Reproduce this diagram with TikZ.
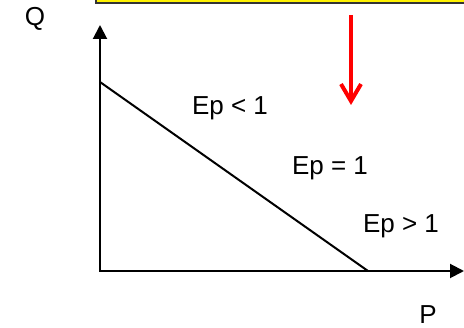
\documentclass[tikz,border=0pt]{standalone}
\usepackage{fontspec}
\setmainfont{Liberation Sans}
\usetikzlibrary{arrows.meta}
\begin{document}
\begin{tikzpicture}[x=1pt,y=-1pt,
  lbl/.style={font=\fontsize{26}{29}\selectfont, inner sep=0pt},
  axis/.style={line width=2pt,-{Triangle[length=14pt,width=14pt]}},
  redarr/.style={red,line width=4pt,-{Straight Barb[length=17pt,width=20pt,line width=4pt]}}]
\useasboundingbox (0,0) rectangle (464,328);
\fill[white] (0,0) rectangle (464,328);
\node[draw=black!80,fill=yellow,line width=2pt,minimum width=380pt,minimum height=20pt,anchor=south west,inner sep=0pt] (box) at (95,4) {};
\coordinate (o) at (100,271);
\coordinate (ytip) at (100,25);
\coordinate (xtip) at (464,271);
\coordinate (d1) at (100,82);
\coordinate (d2) at (368,271);
\coordinate (r1) at (351,15);
\coordinate (r2) at (351,105);
\draw[axis] (100,272) -- (ytip);
\draw[axis] (99,271) -- (xtip);
\draw[line width=2pt] (d1) -- (d2);
\draw[redarr] (r1) -- (r2);
\node[lbl] (q) at (35,19) {Q};
\node[lbl] (p) at (428,315) {P};
\node[lbl] (e1) at (230,108) {Ep < 1};
\node[lbl] (e2) at (330,168) {Ep = 1};
\node[lbl] (e3) at (401,226) {Ep > 1};
\end{tikzpicture}
\end{document}
